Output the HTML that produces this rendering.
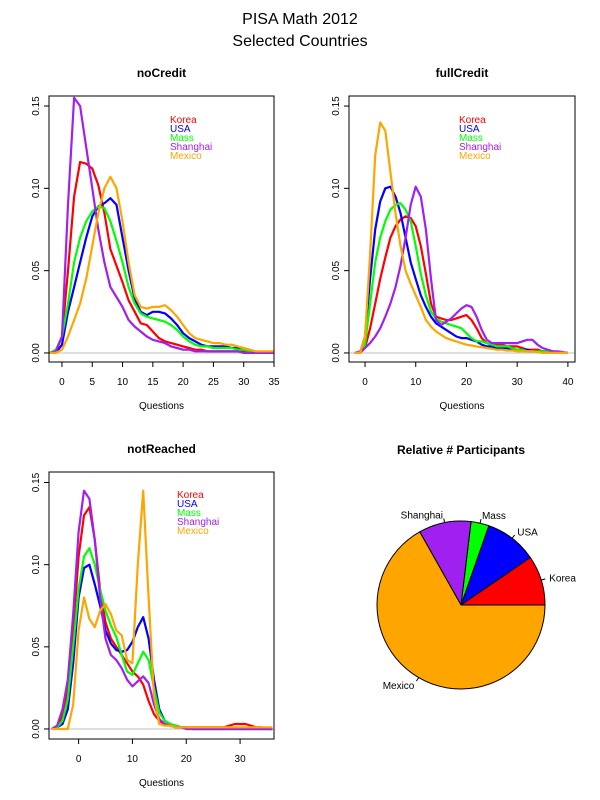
<!DOCTYPE html>
<html><head><meta charset="utf-8"><style>
body{margin:0;background:#fff;}
svg{display:block;font-family:"Liberation Sans",Arial,sans-serif;}
</style></head><body>
<svg id="chart" width="600" height="800" viewBox="0 0 600 800">
<rect width="600" height="800" fill="#fff"/>
<text x="300" y="24" font-size="16" text-anchor="middle">PISA Math 2012</text>
<text x="300" y="46" font-size="16" text-anchor="middle">Selected Countries</text>
</svg>
<script>
const countries=["Korea","USA","Mass","Shanghai","Mexico"];
const colors=["#FF0000","#0000FF","#00FF00","#A020F0","#FFA500"];
const yTicks=[0,0.05,0.10,0.15];
const yTickLabels=["0.00","0.05","0.10","0.15"];

// noCredit: x = -2..35
const ncX0=-2;
const ncKorea=[0,0.001,0.01,0.05,0.095,0.116,0.115,0.112,0.102,0.085,0.063,0.053,0.043,0.032,0.025,0.018,0.017,0.013,0.009,0.007,0.006,0.005,0.004,0.003,0.002,0.002,0.001,0.001,0.001,0.001,0.001,0.001,0.001,0,0,0,0,0];
const ncUSA=[0,0,0.005,0.025,0.04,0.055,0.07,0.083,0.089,0.091,0.094,0.09,0.07,0.05,0.033,0.025,0.023,0.025,0.025,0.024,0.021,0.017,0.012,0.009,0.007,0.005,0.004,0.004,0.004,0.004,0.003,0.003,0.002,0.001,0,0,0,0];
const ncMass=[0,0.002,0.01,0.03,0.055,0.07,0.08,0.086,0.089,0.088,0.08,0.068,0.055,0.04,0.03,0.024,0.022,0.021,0.02,0.019,0.017,0.014,0.01,0.007,0.005,0.004,0.004,0.003,0.003,0.003,0.003,0.002,0.002,0.001,0,0,0,0];
const ncShanghai=[0,0.001,0.01,0.09,0.155,0.15,0.125,0.1,0.075,0.055,0.04,0.034,0.028,0.02,0.016,0.013,0.01,0.008,0.007,0.006,0.004,0.003,0.002,0.002,0.001,0.001,0.001,0.001,0.001,0.001,0.001,0.001,0,0,0,0,0,0];
const ncMexico=[0,0,0.002,0.01,0.02,0.03,0.045,0.065,0.085,0.1,0.107,0.1,0.08,0.055,0.035,0.028,0.027,0.028,0.028,0.029,0.026,0.022,0.017,0.012,0.009,0.008,0.007,0.006,0.006,0.005,0.005,0.004,0.003,0.002,0.001,0.001,0.001,0.001];

// fullCredit: x = -2..40
const fcX0=-2;
const fcKorea=[0,0,0.003,0.015,0.03,0.045,0.058,0.07,0.077,0.081,0.083,0.082,0.077,0.065,0.048,0.03,0.022,0.021,0.02,0.02,0.021,0.022,0.023,0.02,0.015,0.009,0.006,0.005,0.005,0.005,0.004,0.004,0.004,0.003,0.002,0.002,0.002,0.001,0.001,0,0,0,0];
const fcUSA=[0,0,0.01,0.045,0.075,0.092,0.1,0.101,0.095,0.085,0.07,0.055,0.045,0.035,0.028,0.022,0.018,0.016,0.014,0.012,0.01,0.009,0.009,0.008,0.007,0.005,0.004,0.004,0.003,0.003,0.003,0.002,0.002,0.002,0.002,0.001,0.001,0.001,0.001,0,0,0,0];
const fcMass=[0,0,0.005,0.03,0.055,0.07,0.08,0.087,0.09,0.091,0.087,0.08,0.065,0.048,0.035,0.025,0.021,0.019,0.018,0.017,0.016,0.015,0.012,0.009,0.007,0.007,0.006,0.005,0.004,0.004,0.004,0.003,0.002,0.002,0.001,0.001,0.001,0.001,0.001,0.001,0,0,0];
const fcShanghai=[0,0.001,0.003,0.006,0.01,0.015,0.022,0.03,0.04,0.053,0.07,0.09,0.101,0.095,0.075,0.045,0.02,0.017,0.019,0.021,0.024,0.027,0.029,0.028,0.022,0.014,0.008,0.006,0.006,0.006,0.006,0.006,0.006,0.007,0.008,0.008,0.005,0.003,0.002,0.001,0.001,0.0005,0];
const fcMexico=[0,0,0.01,0.06,0.12,0.14,0.135,0.11,0.085,0.065,0.05,0.042,0.035,0.028,0.02,0.016,0.013,0.011,0.009,0.008,0.007,0.006,0.005,0.0045,0.004,0.0035,0.003,0.0025,0.002,0.002,0.0015,0.0015,0.001,0.001,0.001,0.001,0.0005,0,0,0,0,0,0];

// notReached: x = -5..36
const nrX0=-5;
const nrKorea=[0,0.001,0.008,0.025,0.06,0.105,0.13,0.135,0.115,0.085,0.065,0.055,0.05,0.045,0.04,0.035,0.032,0.027,0.017,0.009,0.005,0.003,0.002,0.002,0.001,0.001,0.001,0.001,0.001,0.001,0.001,0.001,0.001,0.002,0.003,0.003,0.003,0.002,0.001,0.001,0,0];
const nrUSA=[0,0.001,0.003,0.012,0.04,0.08,0.098,0.1,0.088,0.075,0.06,0.052,0.048,0.047,0.048,0.053,0.062,0.068,0.055,0.03,0.012,0.005,0.003,0.002,0.001,0.001,0,0,0,0,0,0,0,0,0,0,0,0,0,0,0,0];
const nrMass=[0,0.001,0.005,0.018,0.05,0.085,0.105,0.11,0.1,0.085,0.072,0.063,0.056,0.045,0.035,0.033,0.04,0.047,0.042,0.025,0.01,0.005,0.003,0.002,0.001,0.001,0,0,0,0,0,0,0,0,0,0,0,0,0,0,0,0];
const nrShanghai=[0,0.002,0.012,0.03,0.07,0.12,0.145,0.14,0.115,0.08,0.055,0.045,0.042,0.037,0.03,0.026,0.029,0.032,0.028,0.015,0.006,0.003,0.002,0.001,0.001,0,0,0,0,0,0,0,0,0,0,0,0,0,0,0,0,0];
const nrMexico=[0,0,0,0,0.015,0.06,0.08,0.067,0.062,0.072,0.076,0.07,0.06,0.057,0.042,0.04,0.1,0.145,0.08,0.02,0.003,0.002,0.002,0.001,0.001,0.001,0.001,0.001,0.001,0.001,0.001,0.001,0.001,0.001,0.001,0.001,0.001,0.001,0.001,0.001,0.001,0.001];

const ncXTicks=[0,5,10,15,20,25,30,35];
const fcXTicks=[0,10,20,30,40];
const nrXTicks=[0,10,20,30];

// pie
const pieShares=[0.0956,0.1006,0.0347,0.1008,0.6683];

const NS="http://www.w3.org/2000/svg";
const svg=document.getElementById("chart");
function mk(tag,attrs,parent){const e=document.createElementNS(NS,tag);for(const k in attrs)e.setAttribute(k,attrs[k]);(parent||svg).appendChild(e);return e;}

function panel(id,title,box,dom,x0,series,xticks){
  const g=mk("g",{});
  
  
  const sx=v=>box.l+(v-dom.x0)/(dom.x1-dom.x0)*(box.r-box.l);
  const sy=v=>box.b-(v-dom.y0)/(dom.y1-dom.y0)*(box.b-box.t);
  const cp=mk("clipPath",{id:"clip-"+id},g);
  mk("rect",{x:box.l,y:box.t,width:box.r-box.l,height:box.b-box.t},cp);
  const t=mk("text",{x:(box.l+box.r)/2,y:box.t-19,"font-size":12,"font-weight":"bold","text-anchor":"middle"},g);
  t.textContent=title;
  
  
  const zl=mk("line",{x1:box.l,x2:box.r,y1:sy(0),y2:sy(0),stroke:"#bebebe","stroke-width":1},g);
  
  
  series.forEach((arr,i)=>{
    const pts=arr.map((v,j)=>sx(x0+j).toFixed(1)+","+sy(v).toFixed(1)).join(" ");
    const pl=mk("polyline",{points:pts,fill:"none",stroke:colors[i],"stroke-width":2.2,"stroke-linejoin":"round","clip-path":"url(#clip-"+id+")"},g);
    
    
  });
  const fr=mk("rect",{x:box.l,y:box.t,width:box.r-box.l,height:box.b-box.t,fill:"none",stroke:"#000","stroke-width":1},g);
  
  
  yTicks.forEach((v,i)=>{
    const y=sy(v);
    mk("line",{x1:box.l-5,x2:box.l,y1:y,y2:y,stroke:"#000"},g);
    const tl=mk("text",{x:box.l-10,y:y,"font-size":10,"text-anchor":"middle",transform:`rotate(-90 ${box.l-10} ${y})`},g);
    tl.textContent=yTickLabels[i];
    
    
  });
  xticks.forEach(v=>{
    const x=sx(v);
    mk("line",{x1:x,x2:x,y1:box.b,y2:box.b+5,stroke:"#000"},g);
    const tl=mk("text",{x:x,y:box.b+23,"font-size":10,"text-anchor":"middle"},g);
    tl.textContent=String(v);
    
    
  });
  const xl=mk("text",{x:(box.l+box.r)/2,y:box.b+47,"font-size":10,"text-anchor":"middle"},g);
  xl.textContent="Questions";
  
  
  return {sx,sy,g};
}
function legend(g,x,y){
  countries.forEach((c,i)=>{
    const t=mk("text",{x:x,y:y+i*9,"font-size":10,fill:colors[i]},g);
    t.textContent=c;
    
    
  });
}
const p1=panel("no-credit","noCredit",{l:49,r:274,t:96,b:362},{x0:-2.14,x1:35,y0:-0.0055,y1:0.1561},ncX0,[ncKorea,ncUSA,ncMass,ncShanghai,ncMexico],ncXTicks);
legend(p1.g,170,123);
const p2=panel("full-credit","fullCredit",{l:349,r:575,t:96,b:362},{x0:-3.16,x1:41.4,y0:-0.0055,y1:0.1561},fcX0,[fcKorea,fcUSA,fcMass,fcShanghai,fcMexico],fcXTicks);
legend(p2.g,459,123);
const p3=panel("not-reached","notReached",{l:49,r:274,t:472,b:739},{x0:-5.5,x1:36.3,y0:-0.0061,y1:0.1564},nrX0,[nrKorea,nrUSA,nrMass,nrShanghai,nrMexico],nrXTicks);
legend(p3.g,177,498);

// pie
const pg=mk("g",{});


const pt=mk("text",{x:461,y:454,"font-size":12,"font-weight":"bold","text-anchor":"middle"},pg);
pt.textContent="Relative # Participants";


const cx=461,cy=605,R=84;
let a0=0;
pieShares.forEach((s,i)=>{
  const a1=a0+s*2*Math.PI;
  const x0=cx+R*Math.cos(a0),y0=cy-R*Math.sin(a0),x1=cx+R*Math.cos(a1),y1=cy-R*Math.sin(a1);
  const large=(a1-a0)>Math.PI?1:0;
  const p=mk("path",{d:`M${cx},${cy} L${x0},${y0} A${R},${R} 0 ${large} 0 ${x1},${y1} Z`,fill:colors[i],stroke:"#000","stroke-width":1},pg);
  
  
  const am=(a0+a1)/2,c=Math.cos(am),sn=Math.sin(am);
  mk("line",{x1:cx+R*c,y1:cy-R*sn,x2:cx+R*1.05*c,y2:cy-R*1.05*sn,stroke:"#000"},pg);
  const lt=mk("text",{x:cx+R*1.1*c,y:cy-R*1.1*sn+4,"font-size":10,"text-anchor":c>=0?"start":"end"},pg);
  lt.textContent=countries[i];
  
  
  a0=a1;
});
</script>
</body></html>
